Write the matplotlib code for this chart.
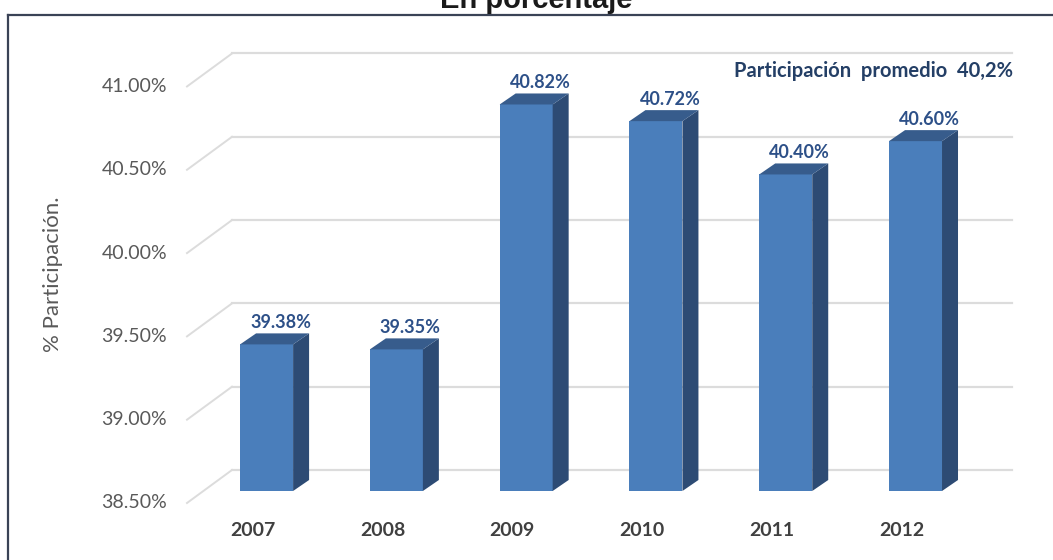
import numpy as np
import matplotlib
matplotlib.use("Agg")
import matplotlib.pyplot as plt
import matplotlib.transforms as mtransforms
from matplotlib.patches import Polygon
from matplotlib.lines import Line2D

# data
years = ["2007", "2008", "2009", "2010", "2011", "2012"]
values = [39.38, 39.35, 40.82, 40.72, 40.40, 40.60]
value_labels = ["39.38%", "39.35%", "40.82%", "40.72%", "40.40%", "40.60%"]
ticks = [38.5, 39.0, 39.5, 40.0, 40.5, 41.0]
tick_labels = ["38.50%", "39.00%", "39.50%", "40.00%", "40.50%", "41.00%"]
note = "Participación  promedio  40,2%"

W, H = 1053, 560
fig = plt.figure(figsize=(W / 100, H / 100), dpi=100)
ax = fig.add_axes([203 / W, 69 / H, 780 / W, 450 / H])
ax.set_xlim(-0.49, 5.52)
ax.set_ylim(38.5, 41.201)
ax.axis("off")

front = "#4a7ebb"
side = "#2d4b74"
top = "#375c8c"
grid = "#dcdcdc"
base = 38.5

# pixel -> data size
p0 = ax.transData.transform((0, 0))
p1 = ax.transData.transform((1, 1))
pxx = p1[0] - p0[0]
pxy = p1[1] - p0[1]

def off(dx, dy):
    return mtransforms.offset_copy(ax.transData, fig=fig, x=dx, y=dy, units="dots")

# back wall grid and floor/wall diagonals
x0, x1 = ax.get_xlim()
for v in ticks:
    ax.plot([x0, x1], [v, v], color=grid, lw=1.6, transform=off(29, 21), zorder=1,
            clip_on=False)
    ax.plot([x0 - 16 / pxx, x0 + 29 / pxx], [v - 12 / pxy, v + 21 / pxy], color=grid,
            lw=1.4, zorder=1, clip_on=False)

# 3d bars
bw = 53 / pxx
ddx = 16 / pxx
ddy = 11 / pxy
xs = np.arange(len(years))
ax.bar(xs, [v - base for v in values], bottom=base, width=bw, color=front, zorder=3)
for x, v in zip(xs, values):
    r = x + bw / 2
    l = x - bw / 2
    ax.add_patch(Polygon([(r, base), (r + ddx, base + ddy), (r + ddx, v + ddy), (r, v)],
                         closed=True, facecolor=side, edgecolor="none", zorder=3))
    ax.add_patch(Polygon([(l, v), (l + ddx, v + ddy), (r + ddx, v + ddy), (r, v)],
                         closed=True, facecolor=top, edgecolor="none", zorder=3))

# value labels
for x, v, lab in zip(xs, values, value_labels):
    ax.text(x, v, lab, transform=off(14, 22), ha="center", va="center",
            fontsize=13, fontweight="bold", color="#2d5088", family="Lato", zorder=5)

# y tick labels
for v, lab in zip(ticks, tick_labels):
    ax.text(x0, v, lab, transform=off(-36, -12), ha="right", va="center",
            fontsize=14, color="#595959", family="Lato")

# year labels
for x, lab in zip(xs, years):
    ax.text(x, base, lab, transform=off(-14, -40), ha="center", va="center",
            fontsize=14, fontweight="bold", color="#404040", family="Lato")

fig.text(1013 / W, 1 - 71 / H, note, ha="right", va="center", fontsize=14.5,
         fontweight="bold", color="#243f66", family="Lato")
fig.text(53 / W, 1 - 274 / H, "% Participación.", rotation=90, ha="center", va="center",
         fontsize=16, color="#595959", family="Lato")

# frame and title
fig.add_artist(Line2D([8 / W, 1.0], [1 - 15 / H, 1 - 15 / H], color="#3a4356", lw=1.6,
                      transform=fig.transFigure))
fig.add_artist(Line2D([8 / W, 8 / W], [0, 1 - 15 / H], color="#3a4356", lw=1.6,
                      transform=fig.transFigure))
fig.text(536 / W, 1 - 8 / H, "En porcentaje", ha="center", va="baseline", fontsize=21,
         fontweight="bold", color="#1a1a1a", family="Liberation Sans")

fig.savefig("out.png", dpi=100)
